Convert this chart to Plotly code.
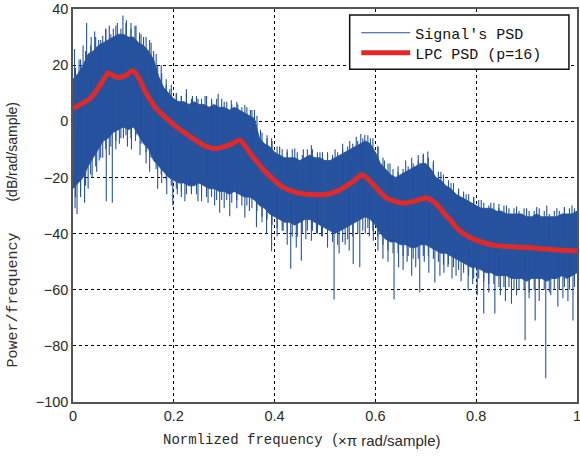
import plotly.graph_objects as go

# Normalized frequency grid for the dense periodogram band (x pi rad/sample)
freq = [i / 100 for i in range(101)]
# Midpoints of the grid, where the fine edge texture is sampled
freq_mid = [i / 100 + 0.005 for i in range(100)]

# Upper edge of the dense periodogram band (dB/rad/sample)
band_top = [15, 17, 20, 24, 25, 27, 28, 29, 30, 31,
            31, 30, 30, 28, 27, 25, 22, 16, 12, 10,
            8, 7, 7, 6, 7, 6, 6, 5, 6, 5,
            5, 4, 5, 4, 3, 2, 1, -6, -8, -9,
            -11, -12, -13, -13, -13, -14, -13, -12, -13, -13,
            -14, -14, -13, -12, -11, -10, -9, -8, -7, -8,
            -11, -15, -17, -19, -20, -19, -18, -17, -16, -15,
            -15, -17, -20, -21, -23, -24, -26, -27, -28, -29,
            -30, -31, -31, -31, -32, -32, -33, -33, -33, -33,
            -34, -34, -33, -34, -34, -34, -34, -33, -33, -33, -32]

# Lower edge of the dense periodogram band (dB/rad/sample)
band_low = [-24, -22, -20, -16, -13, -10, -7, -6, -4, -3,
            -2, -3, -2, -5, -8, -10, -14, -16, -18, -20,
            -21, -22, -22, -23, -23, -22, -23, -24, -24, -25,
            -25, -26, -25, -26, -27, -27, -28, -30, -31, -33,
            -34, -35, -36, -36, -37, -36, -35, -35, -36, -37,
            -38, -39, -40, -39, -38, -37, -36, -35, -34, -35,
            -37, -40, -42, -43, -43, -44, -44, -45, -45, -44,
            -44, -45, -46, -47, -47, -48, -49, -50, -51, -52,
            -52, -53, -54, -54, -55, -55, -55, -56, -56, -56,
            -57, -56, -56, -56, -57, -56, -56, -55, -56, -55, -54]

# Fine peaks along the upper edge, one per grid cell
edge_up_db = [19, 22, 25, 27, 30, 29, 33, 31, 34, 33,
              35, 33, 34, 31, 30, 28, 24, 20, 15, 13,
              10, 9, 10, 8, 9, 8, 9, 7, 8, 8,
              7, 6, 7, 5, 5, 4, 2, -4, -6, -7,
              -9, -10, -11, -10, -11, -12, -10, -10, -11, -11,
              -12, -12, -11, -10, -9, -8, -7, -6, -5, -6,
              -9, -13, -15, -17, -18, -17, -16, -15, -14, -12,
              -13, -15, -18, -19, -21, -22, -24, -25, -26, -27,
              -28, -29, -30, -29, -31, -30, -31, -31, -32, -31,
              -32, -32, -31, -32, -33, -32, -32, -31, -31, -31]

# Fine dips along the lower edge, one per grid cell
edge_down_db = [-27, -25, -23, -19, -16, -13, -10, -9, -7, -6,
                -5, -6, -5, -8, -11, -13, -17, -19, -21, -23,
                -24, -25, -26, -25, -26, -25, -27, -27, -28, -28,
                -28, -29, -28, -30, -30, -31, -32, -34, -35, -37,
                -38, -39, -40, -41, -41, -40, -39, -39, -40, -41,
                -42, -43, -44, -43, -42, -41, -40, -39, -38, -39,
                -41, -44, -46, -47, -47, -48, -48, -49, -49, -48,
                -48, -49, -50, -51, -51, -52, -53, -54, -55, -56,
                -56, -57, -58, -58, -59, -59, -59, -60, -60, -60,
                -61, -60, -60, -60, -61, -60, -60, -59, -60, -59]

# Isolated periodogram peaks rising above the band
up_freq = [0.003, 0.012, 0.020, 0.027, 0.036, 0.043, 0.051, 0.059, 0.065, 0.072,
           0.080, 0.088, 0.099, 0.106, 0.115, 0.123, 0.132, 0.140, 0.152, 0.160,
           0.168, 0.176, 0.185, 0.192, 0.205, 0.215, 0.225, 0.237, 0.248, 0.262,
           0.275, 0.288, 0.300, 0.314, 0.327, 0.341, 0.352, 0.360, 0.372, 0.385,
           0.394, 0.410, 0.425, 0.440, 0.457, 0.473, 0.490, 0.505, 0.520, 0.535,
           0.549, 0.562, 0.571, 0.579, 0.590, 0.605, 0.618, 0.629, 0.645, 0.660,
           0.672, 0.685, 0.695, 0.704, 0.715, 0.730, 0.750, 0.765, 0.780, 0.795,
           0.810, 0.829, 0.845, 0.860, 0.880, 0.900, 0.920, 0.940, 0.960, 0.975, 0.990]
up_db = [25.7, 22, 27, 35, 30, 32, 29, 30.5, 33, 34,
         33, 35, 37.7, 36, 35, 34, 31.6, 30, 29, 25,
         19.8, 17, 13, 11.4, 10, 9, 11.4, 9, 8, 9,
         8, 9.8, 7, 7.5, 6, 5.8, 4, 4, -3, -5,
         -6, -9, -10, -9.7, -10, -8.5, -11, -11, -10, -8,
         -7, -5.5, -4.5, -4.9, -6, -9, -14, -15, -16, -14,
         -13, -12, -11.5, -10.8, -14, -18, -22, -24, -26, -27,
         -28, -29, -29.5, -30, -30.3, -31, -30.5, -30, -31, -30.5, -30]

# Isolated periodogram dips falling below the band
down_freq = [0.004, 0.008, 0.015, 0.023, 0.030, 0.038, 0.047, 0.052, 0.059, 0.066,
             0.072, 0.078, 0.085, 0.092, 0.100, 0.108, 0.116, 0.124, 0.133, 0.145,
             0.152, 0.168, 0.176, 0.186, 0.198, 0.207, 0.215, 0.222, 0.235, 0.248,
             0.255, 0.268, 0.281, 0.291, 0.300, 0.311, 0.325, 0.341, 0.350, 0.364,
             0.375, 0.384, 0.394, 0.405, 0.417, 0.425, 0.432, 0.443, 0.453, 0.462,
             0.473, 0.483, 0.493, 0.505, 0.518, 0.528, 0.540, 0.548, 0.556, 0.569,
             0.580, 0.588, 0.596, 0.605, 0.615, 0.625, 0.637, 0.646, 0.655, 0.663,
             0.672, 0.680, 0.688, 0.697, 0.706, 0.718, 0.728, 0.736, 0.744, 0.752,
             0.760, 0.770, 0.784, 0.793, 0.802, 0.815, 0.825, 0.837, 0.848, 0.858,
             0.870, 0.880, 0.897, 0.905, 0.917, 0.925, 0.938, 0.948, 0.962, 0.972,
             0.982, 0.992]
down_db = [-31, -33, -27, -29, -24, -20, -18, -14, -13, -28.5,
           -12, -29, -10, -8, -6, -9, -10, -7, -12, -15,
           -18, -24, -22, -26, -30, -26, -27, -28.5, -26, -28.5,
           -28.5, -29, -30, -32.6, -31, -33.8, -31, -34.4, -32, -37.7,
           -36, -40, -46.3, -41, -39, -44, -52.5, -45, -49.7, -42,
           -42.6, -40, -41, -45, -63.5, -47, -44, -46, -50.8, -52,
           -40, -41, -42.6, -46, -49, -50, -63.5, -52, -53, -50,
           -55, -52, -61, -50, -54, -57.4, -55, -54, -52, -56,
           -55, -57, -60.3, -58, -62, -68.5, -61, -68.5, -62, -64,
           -65, -62, -78, -63, -71, -64, -91.5, -62, -66, -63,
           -64, -71]

# LPC (order 16) spectral envelope
lpc_freq = [0.0, 0.015, 0.033, 0.045, 0.053, 0.062, 0.070, 0.080, 0.093, 0.105,
            0.119, 0.132, 0.142, 0.152, 0.165, 0.179, 0.205, 0.238, 0.260, 0.281,
            0.300, 0.316, 0.331, 0.342, 0.354, 0.368, 0.381, 0.398, 0.414, 0.440,
            0.473, 0.500, 0.515, 0.530, 0.544, 0.556, 0.573, 0.585, 0.596, 0.609,
            0.622, 0.640, 0.655, 0.672, 0.688, 0.702, 0.715, 0.728, 0.738, 0.748,
            0.764, 0.778, 0.791, 0.810, 0.837, 0.870, 0.903, 0.930, 0.956, 1.0]
lpc_db = [4.5, 6, 8, 10.5, 12.7, 15.3, 17.2, 16.2, 15.7, 16.3,
          18, 15, 11, 8, 4.5, 2.1, -2, -6.1, -8.6, -9.7,
          -9, -8, -6.7, -9, -12, -15, -17.9, -20.8, -23.2, -25.2,
          -26.1, -26.1, -25.5, -24.4, -22.8, -21.4, -19.1, -20.5, -22.6, -25.2,
          -27.3, -28.6, -29.1, -28.7, -27.9, -27.3, -28.6, -30.9, -33.2, -35,
          -38.5, -40.4, -41.7, -43, -44.2, -44.7, -45, -45.4, -45.8, -46.2]

x_ticks = [0, 0.2, 0.4, 0.6, 0.8, 1]
x_tick_text = ["0", "0.2", "0.4", "0.6", "0.8", "1"]
y_ticks = [-100, -80, -60, -40, -20, 0, 20, 40]

PSD_BLUE = "#26529e"
LPC_RED = "#e02a2a"
MONO = "Liberation Mono"
SANS = "Liberation Sans"


def core_mid(f):
    i = min(int(round(f * 100)), 100)
    return (band_top[i] + band_low[i]) / 2


# Spikes drawn as vertical strokes out of the band core
spike_pairs = (list(zip(up_freq, up_db)) + list(zip(down_freq, down_db))
               + list(zip(freq_mid, edge_up_db)) + list(zip(freq_mid, edge_down_db)))
spike_x, spike_y = [], []
for f, v in spike_pairs:
    spike_x += [f, f, None]
    spike_y += [core_mid(f), v, None]

fig = go.Figure()

fig.add_trace(go.Scatter(
    x=freq + freq[::-1], y=band_top + band_low[::-1],
    fill="toself", fillcolor=PSD_BLUE, mode="lines",
    line=dict(color=PSD_BLUE, width=0.8),
    showlegend=False, hoverinfo="skip"))

fig.add_trace(go.Scatter(
    x=spike_x, y=spike_y, mode="lines", name="Signal's PSD",
    line=dict(color=PSD_BLUE, width=1.1), legend="legend"))

fig.add_trace(go.Scatter(
    x=lpc_freq, y=lpc_db, mode="lines", name="LPC PSD (p=16)",
    line=dict(color=LPC_RED, width=5, shape="spline", smoothing=0.8),
    legend="legend2"))

axis_common = dict(
    showgrid=True, gridcolor="#000000", gridwidth=1, griddash="3px,3px",
    zeroline=False, showline=True, linecolor="#555555", linewidth=1.5,
    mirror=True, ticks="", ticklabeloverflow="allow", automargin=False,
    tickfont=dict(family=SANS, size=14.5, color="#2a2a2a"),
)

fig.update_xaxes(range=[0, 1], tickvals=x_ticks, ticktext=x_tick_text, **axis_common)
fig.update_yaxes(range=[-100, 40], tickvals=y_ticks, **axis_common)

# Axis titles (mixed fonts, as rendered by the original plotting tool)
fig.add_annotation(text="Normlized frequency (", xref="paper", yref="paper",
                   x=0.532, y=-0.0967, xanchor="right", yanchor="middle",
                   showarrow=False, font=dict(family=MONO, size=14, color="#2a2a2a"))
fig.add_annotation(text="×π rad/sample)", xref="paper", yref="paper",
                   x=0.522, y=-0.0967, xanchor="left", yanchor="middle",
                   showarrow=False, font=dict(family=SANS, size=15, color="#2a2a2a"))
fig.add_annotation(text="Power/frequency", xref="paper", yref="paper",
                   x=-0.12, y=0.2595, xanchor="center", yanchor="middle", textangle=-90,
                   showarrow=False, font=dict(family=MONO, size=15, color="#3a2e28"))
fig.add_annotation(text="(dB/rad/sample)", xref="paper", yref="paper",
                   x=-0.12, y=0.636, xanchor="center", yanchor="middle", textangle=-90,
                   showarrow=False, font=dict(family=SANS, size=14, color="#2a2a2a"))

# Opaque legend frame
fig.add_shape(type="rect", xref="paper", yref="paper",
              x0=0.549, x1=0.984, y0=0.847, y1=0.985,
              fillcolor="white", line=dict(color="#111111", width=1.5), layer="above")

legend_style = dict(
    xanchor="left", yanchor="middle", bgcolor="rgba(0,0,0,0)", borderwidth=0,
    font=dict(family=MONO, size=15, color="#111111"), itemwidth=49,
)

fig.update_layout(
    width=580, height=457,
    margin=dict(l=73, r=3, t=9, b=55, autoexpand=False),
    paper_bgcolor="white", plot_bgcolor="white",
    legend=dict(x=0.562, y=0.939, **legend_style),
    legend2=dict(x=0.562, y=0.888, **legend_style),
)

fig.write_html("out.html")
